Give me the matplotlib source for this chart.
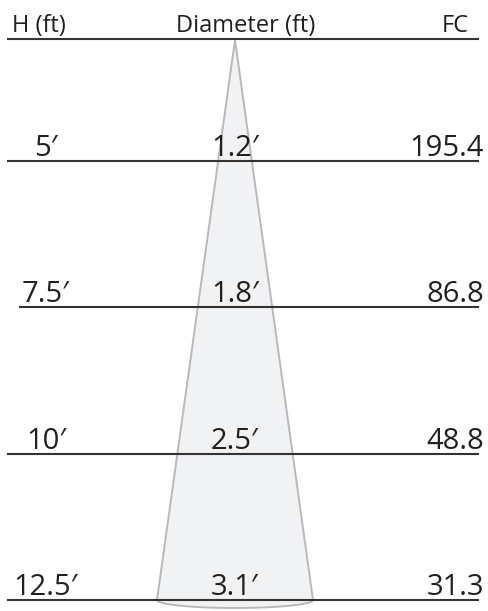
import numpy as np
import matplotlib
matplotlib.use("Agg")
import matplotlib.pyplot as plt
from matplotlib.patches import Polygon

# ---- data ----
heights = [5, 7.5, 10, 12.5]
height_labels = ["5\u2032", "7.5\u2032", "10\u2032", "12.5\u2032"]
diameter_labels = ["1.2\u2032", "1.8\u2032", "2.5\u2032", "3.1\u2032"]
fc_values = ["195.4", "86.8", "48.8", "31.3"]
headers = ["H (ft)", "Diameter (ft)", "FC"]

FONT = ["Open Sans", "DejaVu Sans"]
TXT = "#231f20"

# vertical scale: feet -> pixel rows (h=5 at px 161, h=12.5 at px 600)
PX_PER_FT = (600 - 161) / 7.5
def h_of_px(py):
    return 5 + (py - 161) / PX_PER_FT

fig = plt.figure(figsize=(4.88, 6.11), dpi=100)
ax = fig.add_axes([0, 0, 1, 1])
ax.set_xlim(0, 488)
ax.set_ylim(h_of_px(611), h_of_px(0))
ax.axis("off")

# cone
h_apex = h_of_px(40)
h_base = heights[-1]
cx, half_base = 235, 78
t = np.linspace(np.pi, 2 * np.pi, 40)
arc_x = cx + half_base * np.cos(t)
arc_y = h_base - (8 / PX_PER_FT) * np.sin(t)
pts = [(cx, h_apex)] + list(zip(arc_x, arc_y))
cone = Polygon(pts, closed=True, facecolor="#f1f2f4", edgecolor="#b9b9bc",
               linewidth=1.4, zorder=1)
ax.add_patch(cone)

# header line & headers
h_top = h_of_px(39)
ax.plot([8, 478], [h_top, h_top], color="#333333", lw=1.5, zorder=2)
hb = h_of_px(32)
ax.text(12, hb, headers[0], ha="left", va="baseline", fontsize=17,
        family=FONT, color=TXT)
ax.text(246, hb, headers[1], ha="center", va="baseline", fontsize=17,
        family=FONT, color=TXT)
ax.text(469, hb, headers[2], ha="right", va="baseline", fontsize=17,
        family=FONT, color=TXT)

# rows
line_start = [8, 20, 8, 8]
for h, hl, dl, fc, xs in zip(heights, height_labels, diameter_labels,
                             fc_values, line_start):
    ax.plot([xs, 478], [h, h], color="#333333", lw=1.5, zorder=2)
    yb = h - 5 / PX_PER_FT
    ax.text(46, yb, hl, ha="center", va="baseline", fontsize=21,
            family=FONT, color=TXT, zorder=3)
    ax.text(235, yb, dl, ha="center", va="baseline", fontsize=21,
            family=FONT, color=TXT, zorder=3)
    ax.text(484, yb, fc, ha="right", va="baseline", fontsize=21,
            family=FONT, color=TXT, zorder=3)

fig.savefig("out.png", dpi=100)
